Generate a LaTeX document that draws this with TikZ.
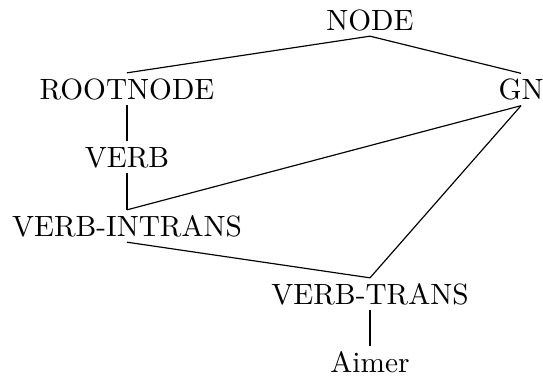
\documentclass[tikz,border=0pt]{standalone}
\begin{document}
\begin{tikzpicture}[x=0.341pt,y=-0.341pt,
  lbl/.style={inner xsep=0pt,inner ysep=1.9pt,text height=6.83pt,text depth=0pt,anchor=center},
  link/.style={line width=0.4pt}]
\useasboundingbox (0,0) rectangle (543,376);
\node[lbl] (node) at (370,20) {NODE};
\node[lbl] (root) at (127,89) {ROOTNODE};
\node[lbl] (gn) at (521,89.5) {GN};
\node[lbl] (verb) at (127,157) {VERB};
\node[lbl] (vi) at (127,226) {VERB-INTRANS};
\node[lbl] (vt) at (370,294) {VERB-TRANS};
\node[lbl] (aimer) at (370,362) {Aimer};
\draw[link] (node.south) -- (root.north);
\draw[link] (node.south) -- (gn.north);
\draw[link] (root.south) -- (verb.north);
\draw[link] (verb.south) -- (vi.north);
\draw[link] (gn.south) -- (vi.north);
\draw[link] (gn.south) -- (vt.north);
\draw[link] (vi.south) -- (vt.north);
\draw[link] (vt.south) -- (aimer.north);
\end{tikzpicture}
\end{document}
